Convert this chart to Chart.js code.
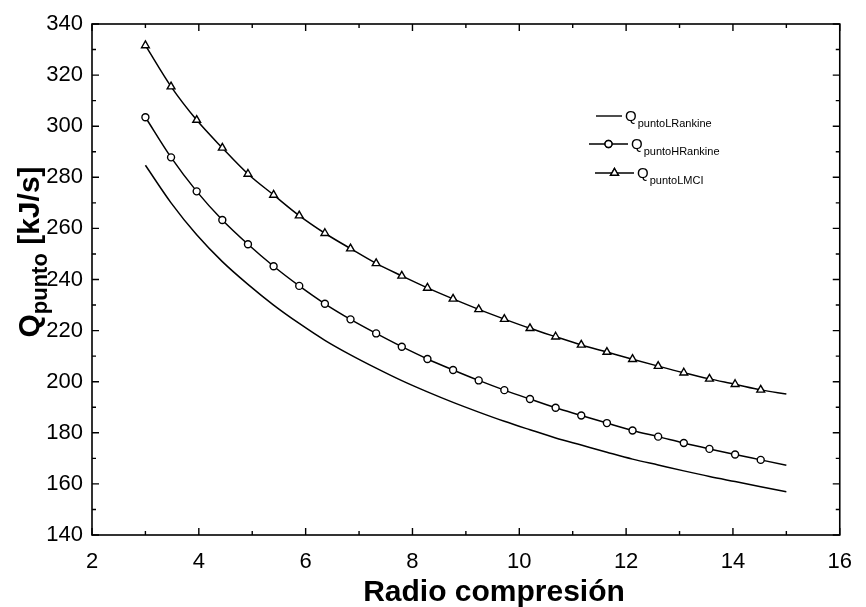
<!DOCTYPE html>
<html>
  <head>
    <meta charset="utf-8">
    <title>Q punto vs radio de compresión</title>
    <script src="https://cdn.jsdelivr.net/npm/chart.js@4.4.1/dist/chart.umd.min.js"></script>
    <style>
      body { margin: 0; background: #fff; }
      canvas { display: block; }
    </style>
  </head>

  <body>
    <canvas id="canvas" width="866" height="607"></canvas>
    <script>
      // radio de compresión (marcadores cada 0.48, la curva termina en 15)
      const radio = [3, 3.48, 3.96, 4.44, 4.92, 5.4, 5.88, 6.36, 6.84, 7.32, 7.8, 8.28, 8.76,
        9.24, 9.72, 10.2, 10.68, 11.16, 11.64, 12.12, 12.6, 13.08, 13.56, 14.04, 14.52, 15];

      // calor en kJ/s
      const qLRankine = [284.7, 270.0, 257.5, 247.0, 238.1, 230.0, 222.8, 216.2, 210.5, 205.3,
        200.4, 196.0, 191.9, 188.1, 184.5, 181.2, 178.0, 175.2, 172.4, 169.7, 167.4, 165.1,
        162.9, 160.9, 158.9, 156.9];
      const qHRankine = [303.5, 287.8, 274.5, 263.3, 253.8, 245.2, 237.5, 230.5, 224.4, 218.9,
        213.7, 208.9, 204.6, 200.5, 196.7, 193.2, 189.8, 186.8, 183.8, 180.9, 178.5, 176.0,
        173.7, 171.5, 169.4, 167.3];
      const qLMCI = [331.6, 315.5, 302.4, 291.5, 281.3, 273.1, 265.0, 258.1, 252.1, 246.3,
        241.4, 236.7, 232.4, 228.3, 224.5, 220.9, 217.6, 214.4, 211.6, 208.8, 206.1, 203.5,
        201.1, 199.0, 196.8, 195.2];

      const legendSubs = ['puntoLRankine', 'puntoHRankine', 'puntoLMCI'];

      const FONT = "'Liberation Sans', Arial, Helvetica, sans-serif";

      const toXY = (ys) => ys.map((y, i) => ({ x: radio[i], y: y }));
      // no marker on the closing point of each curve
      const markerSize = (r) => (ctx) => (ctx.dataIndex === radio.length - 1 ? 0 : r);

      function series(label, ys, style, r) {
        return {
          label: label,
          data: toXY(ys),
          showLine: true,
          borderColor: '#000',
          borderWidth: 1.5,
          cubicInterpolationMode: 'monotone',
          pointStyle: style,
          pointRadius: style ? markerSize(r) : 0,
          pointHoverRadius: 0,
          pointBackgroundColor: '#fff',
          pointBorderColor: '#000',
          pointBorderWidth: 1.4,
        };
      }

      // frame, inward ticks, axis titles and legend
      const decor = {
        id: 'decor',
        afterDraw(chart) {
          const ctx = chart.ctx;
          const a = chart.chartArea;
          const xs = chart.scales.x;
          const ys = chart.scales.y;
          ctx.save();
          ctx.strokeStyle = '#000';
          ctx.lineWidth = 1.6;
          ctx.strokeRect(a.left, a.top, a.right - a.left, a.bottom - a.top);

          ctx.lineWidth = 1.4;
          ctx.beginPath();
          for (let v = 2; v <= 16; v += 1) {
            const px = xs.getPixelForValue(v);
            const len = v % 2 === 0 ? 7 : 4;
            ctx.moveTo(px, a.bottom); ctx.lineTo(px, a.bottom - len);
            ctx.moveTo(px, a.top); ctx.lineTo(px, a.top + len);
          }
          for (let v = 140; v <= 340; v += 10) {
            const py = ys.getPixelForValue(v);
            const len = v % 20 === 0 ? 7 : 4;
            ctx.moveTo(a.left, py); ctx.lineTo(a.left + len, py);
            ctx.moveTo(a.right, py); ctx.lineTo(a.right - len, py);
          }
          ctx.stroke();

          // x title
          ctx.fillStyle = '#000';
          ctx.font = 'bold 30px ' + FONT;
          ctx.textAlign = 'center';
          ctx.textBaseline = 'alphabetic';
          ctx.fillText('Radio compresión', 494, 601);

          // y title with subscript, rotated
          ctx.save();
          ctx.translate(39, 252);
          ctx.rotate(-Math.PI / 2);
          const big = 'bold 30px ' + FONT;
          const small = 'bold 22px ' + FONT;
          ctx.font = big;
          const wQ = ctx.measureText('Q').width;
          const wU = ctx.measureText(' [kJ/s]').width;
          ctx.font = small;
          const wS = ctx.measureText('punto').width;
          let x0 = -(wQ + wS + wU) / 2;
          ctx.textAlign = 'left';
          ctx.font = big;
          ctx.fillText('Q', x0, 0);
          ctx.font = small;
          ctx.fillText('punto', x0 + wQ, 8);
          ctx.font = big;
          ctx.fillText(' [kJ/s]', x0 + wQ + wS, 0);
          ctx.restore();

          // legend
          const rows = [
            { y: 116, x1: 596, x2: 622, mark: null },
            { y: 144, x1: 589, x2: 628, mark: 'circle' },
            { y: 173, x1: 595, x2: 634, mark: 'triangle' },
          ];
          rows.forEach((row, i) => {
            ctx.lineWidth = 1.4;
            ctx.beginPath();
            ctx.moveTo(row.x1, row.y); ctx.lineTo(row.x2, row.y);
            ctx.stroke();
            const mx = (row.x1 + row.x2) / 2;
            if (row.mark) {
              ctx.fillStyle = '#fff';
              Chart.helpers.drawPoint(ctx, { pointStyle: row.mark, radius: row.mark === 'circle' ? 3.5 : 4.5, borderWidth: 1.4 }, mx, row.y);
              ctx.fill();
              ctx.stroke();
            }
            ctx.fillStyle = '#000';
            ctx.textAlign = 'left';
            ctx.textBaseline = 'alphabetic';
            ctx.font = '15px ' + FONT;
            ctx.fillText('Q', row.x2 + 3, row.y + 5);
            const wq = ctx.measureText('Q').width;
            ctx.font = '11px ' + FONT;
            ctx.fillText(legendSubs[i], row.x2 + 4 + wq, row.y + 11);
          });
          ctx.restore();
        },
      };

      const ctx = document.getElementById('canvas').getContext('2d');
      new Chart(ctx, {
        type: 'scatter',
        data: {
          datasets: [
            series('QpuntoLRankine', qLRankine, false, 0),
            series('QpuntoHRankine', qHRankine, 'circle', 3.5),
            series('QpuntoLMCI', qLMCI, 'triangle', 4.5),
          ],
        },
        options: {
          responsive: false,
          animation: false,
          devicePixelRatio: 1,
          layout: { padding: { left: 0, right: 16, top: 24, bottom: 0 } },
          plugins: { legend: { display: false }, tooltip: { enabled: false } },
          scales: {
            x: {
              type: 'linear',
              min: 2,
              max: 16,
              grid: { display: false, drawTicks: false },
              border: { display: false },
              ticks: { stepSize: 2, color: '#000', padding: 14, font: { family: FONT, size: 22 } },
              afterFit: (s) => { s.height = 72; },
            },
            y: {
              min: 140,
              max: 340,
              grid: { display: false, drawTicks: false },
              border: { display: false },
              ticks: { stepSize: 20, color: '#000', padding: 9, font: { family: FONT, size: 22 } },
              afterFit: (s) => { s.width = 92; },
            },
          },
        },
        plugins: [decor],
      });
    </script>
  </body>
</html>
